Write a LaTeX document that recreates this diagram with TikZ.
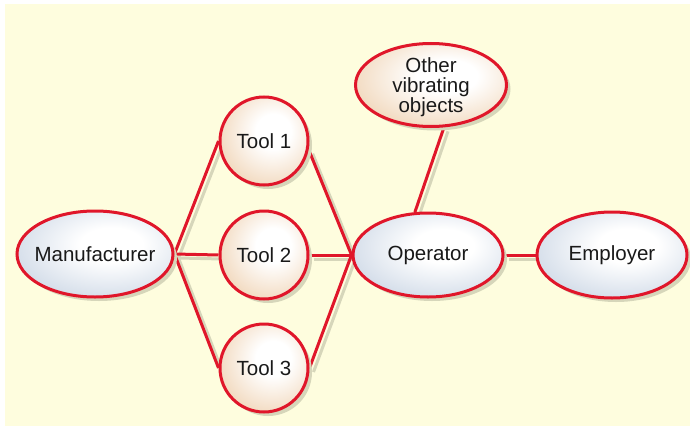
\documentclass[tikz,border=0pt]{standalone}
\usepackage{fontspec}
\setmainfont{Liberation Sans}
\usetikzlibrary{shapes.geometric, shadows, backgrounds}
\definecolor{paper}{RGB}{254,253,222}
\definecolor{linkred}{RGB}{224,22,42}
\definecolor{shadowc}{RGB}{214,214,186}
\definecolor{bluec}{RGB}{180,196,217}
\definecolor{peachc}{RGB}{232,190,144}
\pgfdeclareradialshading{bluefill}{\pgfpoint{6bp}{6bp}}{color(0bp)=(white); color(10bp)=(white); color(46bp)=(bluec); color(90bp)=(bluec)}
\pgfdeclareradialshading{peachfill}{\pgfpoint{6bp}{6bp}}{color(0bp)=(white); color(10bp)=(white); color(46bp)=(peachc); color(90bp)=(peachc)}
\tikzset{>=stealth}

\begin{document}
\begin{tikzpicture}[x=1pt, y=-1pt,
    party/.style={ellipse, draw=linkred, line width=3pt, inner sep=0pt,
        font=\fontsize{20.5}{20}\selectfont, text=black!90,
        drop shadow={shadow xshift=4pt, shadow yshift=-4pt, fill=shadowc, opacity=1}},
    person/.style={party, shading=bluefill},
    thing/.style={party, shading=peachfill, align=center},
    link/.style={draw=linkred, line width=3pt,
        preaction={draw=shadowc, line width=3pt, transform canvas={shift={(4pt,-4pt)}}}}]
    \useasboundingbox (0,0) rectangle (690,428);
    \node[person, inner xsep=-10pt, minimum width=156pt, minimum height=86pt] (maker) at (95,254) {Manufacturer};
    \node[thing, minimum width=88pt, minimum height=88pt] (tool1) at (264,141) {Tool 1};
    \node[thing, minimum width=88pt, minimum height=88pt] (tool2) at (264,255) {Tool 2};
    \node[thing, minimum width=88pt, minimum height=88pt] (tool3) at (264,368) {Tool 3};
    \node[person, minimum width=150pt, minimum height=84pt] (oper) at (428,255) {Operator};
    \node[person, minimum width=150pt, minimum height=86pt] (boss) at (612,255) {Employer};
    \node[thing, minimum width=151pt, minimum height=83pt, text depth=0pt] (other) at (431,85)
        {Other\\vibrating\\objects};
    \begin{pgfonlayer}{background}
    \fill[white] (0,0) rectangle (690,428);
    \fill[paper] (5,4) rectangle (690,426);
    \draw[link] (maker.east) -- (tool1.west);
    \draw[link] (maker.east) -- (tool2.west);
    \draw[link] (maker.east) -- (tool3.west);
    \draw[link] (tool1.-11) -- (oper.west);
    \draw[link] (tool2.east) -- (oper.west);
    \draw[link] (tool3.east) -- (oper.west);
    \draw[link] (oper.107) -- (other.-73);
    \draw[link] (oper.east) -- (boss.west);
    \end{pgfonlayer}
\end{tikzpicture}
\end{document}
